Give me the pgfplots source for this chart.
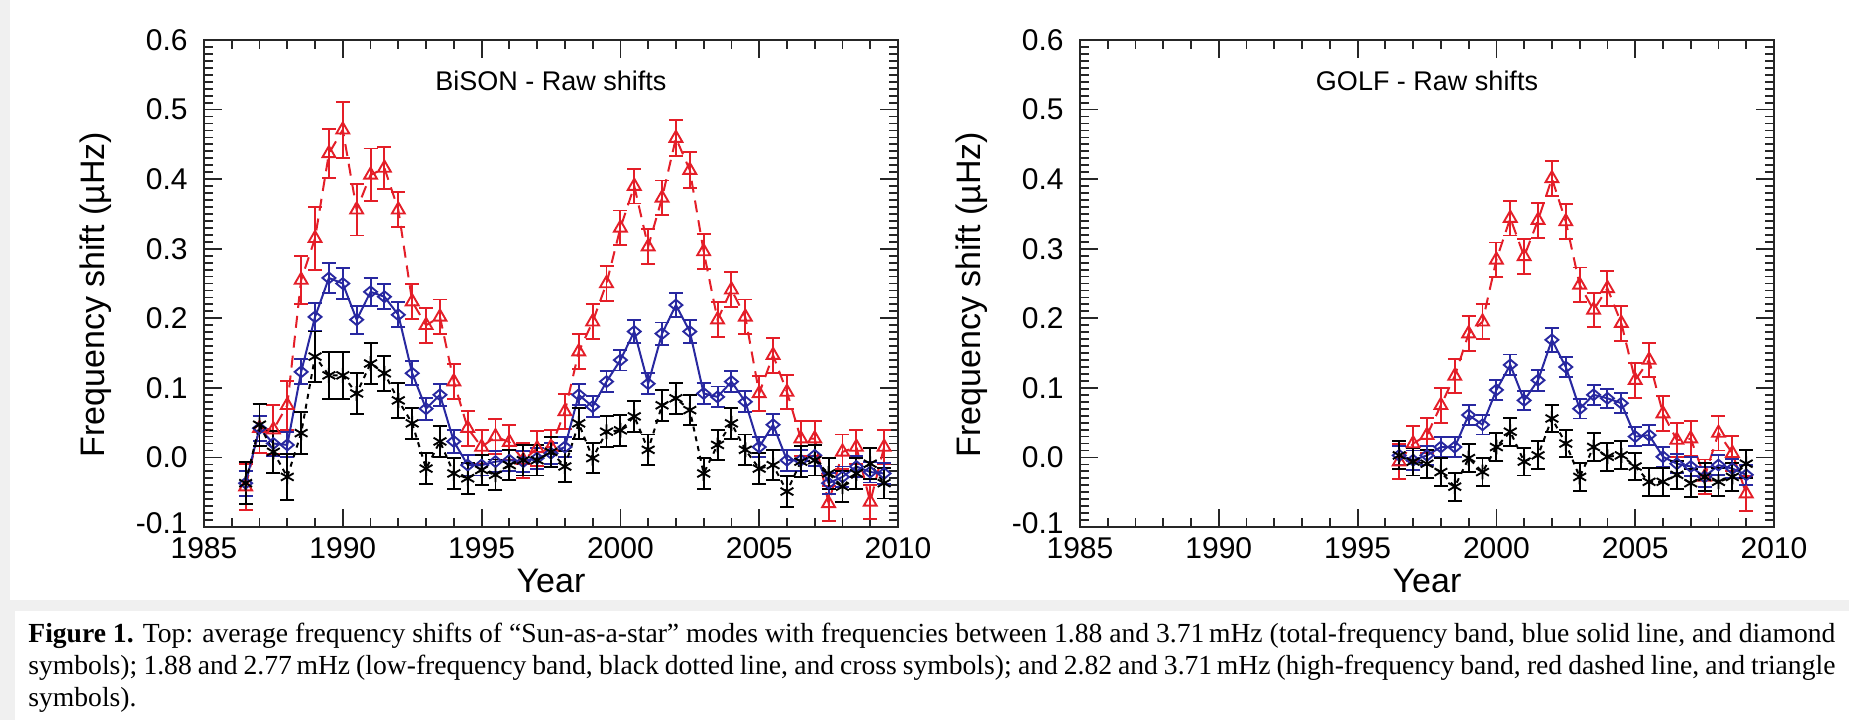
\documentclass[border=0pt]{standalone}
\usepackage{pgfplots}
\pgfplotsset{compat=1.18}
\usepackage{pgfplotstable}
\usepackage{fontspec}
\setmainfont{Liberation Serif}
\newfontfamily\arial{Liberation Sans}
\definecolor{myred}{RGB}{228,30,40}
\definecolor{myblue}{RGB}{40,40,160}
\definecolor{bg}{RGB}{240,240,240}

\pgfplotstableread{
x y e
1986.5 -0.042 0.033
1987.0 0.042 0.035
1987.5 0.040 0.035
1988.0 0.075 0.035
1988.5 0.255 0.035
1989.0 0.315 0.045
1989.5 0.437 0.035
1990.0 0.471 0.040
1990.5 0.356 0.037
1991.0 0.406 0.038
1991.5 0.416 0.030
1992.0 0.356 0.025
1992.5 0.224 0.025
1993.0 0.190 0.025
1993.5 0.202 0.025
1994.0 0.109 0.025
1994.5 0.042 0.025
1995.0 0.015 0.025
1995.5 0.030 0.025
1996.0 0.022 0.025
1996.5 -0.004 0.025
1997.0 0.013 0.025
1997.5 0.015 0.025
1998.0 0.066 0.025
1998.5 0.152 0.025
1999.0 0.195 0.025
1999.5 0.250 0.025
2000.0 0.330 0.025
2000.5 0.390 0.025
2001.0 0.303 0.025
2001.5 0.373 0.025
2002.0 0.459 0.026
2002.5 0.413 0.026
2003.0 0.296 0.025
2003.5 0.198 0.025
2004.0 0.241 0.025
2004.5 0.202 0.025
2005.0 0.092 0.025
2005.5 0.147 0.025
2006.0 0.094 0.025
2006.5 0.027 0.025
2007.0 0.027 0.025
2007.5 -0.066 0.025
2008.0 0.008 0.025
2008.5 0.015 0.025
2009.0 -0.064 0.025
2009.5 0.015 0.025
}\bisonred

\pgfplotstableread{
x y e
1986.5 -0.037 0.018
1987.0 0.042 0.018
1987.5 0.020 0.018
1988.0 0.018 0.018
1988.5 0.123 0.018
1989.0 0.202 0.020
1989.5 0.258 0.022
1990.0 0.250 0.022
1990.5 0.198 0.020
1991.0 0.238 0.020
1991.5 0.231 0.018
1992.0 0.205 0.018
1992.5 0.121 0.017
1993.0 0.070 0.016
1993.5 0.090 0.016
1994.0 0.023 0.016
1994.5 -0.011 0.015
1995.0 -0.011 0.015
1995.5 -0.006 0.015
1996.0 -0.004 0.015
1996.5 -0.006 0.015
1997.0 -0.001 0.015
1997.5 0.006 0.015
1998.0 0.015 0.015
1998.5 0.090 0.015
1999.0 0.073 0.015
1999.5 0.109 0.015
2000.0 0.140 0.015
2000.5 0.181 0.016
2001.0 0.106 0.015
2001.5 0.178 0.016
2002.0 0.219 0.017
2002.5 0.181 0.016
2003.0 0.092 0.015
2003.5 0.087 0.015
2004.0 0.109 0.015
2004.5 0.080 0.015
2005.0 0.015 0.015
2005.5 0.047 0.015
2006.0 -0.004 0.015
2006.5 -0.004 0.015
2007.0 0.003 0.015
2007.5 -0.037 0.015
2008.0 -0.028 0.015
2008.5 -0.013 0.015
2009.0 -0.021 0.015
2009.5 -0.023 0.015
}\bisonblue

\pgfplotstableread{
x y e
1986.5 -0.037 0.030
1987.0 0.047 0.030
1987.5 0.008 0.030
1988.0 -0.028 0.033
1988.5 0.035 0.030
1989.0 0.145 0.036
1989.5 0.118 0.034
1990.0 0.118 0.034
1990.5 0.092 0.030
1991.0 0.135 0.030
1991.5 0.121 0.025
1992.0 0.082 0.025
1992.5 0.049 0.022
1993.0 -0.016 0.022
1993.5 0.023 0.022
1994.0 -0.023 0.022
1994.5 -0.030 0.022
1995.0 -0.018 0.022
1995.5 -0.025 0.022
1996.0 -0.011 0.022
1996.5 -0.004 0.022
1997.0 -0.004 0.022
1997.5 0.008 0.022
1998.0 -0.013 0.022
1998.5 0.049 0.022
1999.0 -0.001 0.022
1999.5 0.037 0.022
2000.0 0.039 0.022
2000.5 0.059 0.022
2001.0 0.011 0.022
2001.5 0.075 0.022
2002.0 0.085 0.022
2002.5 0.068 0.022
2003.0 -0.023 0.022
2003.5 0.018 0.022
2004.0 0.049 0.022
2004.5 0.011 0.022
2005.0 -0.016 0.022
2005.5 -0.011 0.022
2006.0 -0.049 0.022
2006.5 -0.006 0.022
2007.0 -0.004 0.022
2007.5 -0.023 0.022
2008.0 -0.042 0.022
2008.5 -0.023 0.022
2009.0 -0.009 0.022
2009.5 -0.037 0.022
}\bisonblack

\pgfplotstableread{
x y e
1996.5 -0.006 0.025
1997.0 0.020 0.025
1997.5 0.032 0.025
1998.0 0.075 0.025
1998.5 0.117 0.025
1999.0 0.178 0.025
1999.5 0.195 0.025
2000.0 0.284 0.025
2000.5 0.344 0.025
2001.0 0.289 0.025
2001.5 0.341 0.025
2002.0 0.401 0.025
2002.5 0.339 0.025
2003.0 0.248 0.025
2003.5 0.212 0.025
2004.0 0.243 0.025
2004.5 0.193 0.025
2005.0 0.111 0.025
2005.5 0.140 0.025
2006.0 0.063 0.025
2006.5 0.025 0.025
2007.0 0.027 0.025
2007.5 -0.028 0.025
2008.0 0.035 0.025
2008.5 0.006 0.025
2009.0 -0.052 0.025
}\golfred

\pgfplotstableread{
x y e
1996.5 0.003 0.014
1997.0 -0.004 0.014
1997.5 0.003 0.014
1998.0 0.015 0.014
1998.5 0.015 0.014
1999.0 0.061 0.014
1999.5 0.047 0.014
2000.0 0.097 0.014
2000.5 0.133 0.015
2001.0 0.082 0.014
2001.5 0.111 0.015
2002.0 0.169 0.017
2002.5 0.130 0.015
2003.0 0.070 0.014
2003.5 0.090 0.014
2004.0 0.085 0.014
2004.5 0.078 0.014
2005.0 0.030 0.014
2005.5 0.032 0.014
2006.0 0.001 0.014
2006.5 -0.009 0.014
2007.0 -0.013 0.014
2007.5 -0.028 0.014
2008.0 -0.011 0.014
2008.5 -0.016 0.014
2009.0 -0.025 0.014
}\golfblue

\pgfplotstableread{
x y e
1996.5 0.003 0.020
1997.0 -0.006 0.020
1997.5 -0.009 0.020
1998.0 -0.021 0.020
1998.5 -0.042 0.020
1999.0 -0.001 0.020
1999.5 -0.021 0.020
2000.0 0.015 0.020
2000.5 0.037 0.020
2001.0 -0.006 0.020
2001.5 0.003 0.020
2002.0 0.056 0.019
2002.5 0.020 0.020
2003.0 -0.028 0.020
2003.5 0.015 0.020
2004.0 0.001 0.020
2004.5 0.003 0.020
2005.0 -0.013 0.020
2005.5 -0.035 0.020
2006.0 -0.035 0.020
2006.5 -0.025 0.020
2007.0 -0.037 0.020
2007.5 -0.028 0.020
2008.0 -0.035 0.020
2008.5 -0.028 0.020
2009.0 -0.009 0.020
}\golfblack

\pgfplotsset{
  myaxis/.style={
    scale only axis, width=347pt, height=243.5pt,
    xmin=1985, xmax=2010, ymin=-0.1, ymax=0.6,
    xtick={1985,1990,1995,2000,2005,2010},
    xticklabels={1985,1990,1995,2000,2005,2010},
    ytick={-0.1,0,0.1,0.2,0.3,0.4,0.5,0.6},
    yticklabels={\raisebox{3.5pt}{-0.1},0.0,0.1,0.2,0.3,0.4,0.5,0.6},
    minor x tick num=4, minor y tick num=9,
    tick align=inside,
    major tick length=9pt, minor tick length=4.5pt,
    axis line style={line width=1.3pt, black!85},
    every tick/.style={black!85, line width=0.9pt},
    tick label style={font=\arial\fontsize{15}{18}\selectfont, inner sep=1pt},
    yticklabel style={xshift=-7pt},
    xticklabel style={yshift=-4pt},
    xlabel={Year}, ylabel={Frequency shift (µHz)},
    every axis x label/.style={at={(axis description cs:0.5,-0.1335)},anchor=base,font=\arial\fontsize{17}{20}\selectfont},
    every axis y label/.style={at={(axis description cs:-0.144,0.477)},rotate=90,anchor=base,font=\arial\fontsize{17}{20}\selectfont},
  },
  redser/.style={myred, line width=1pt, dash pattern=on 6pt off 4pt, mark=triangle, mark size=3.7pt,
    mark options={solid, line width=0.95pt},
    error bars/.cd, y dir=both, y explicit,
    error bar style={solid, line width=0.95pt},
    error mark options={rotate=90, mark size=3.5pt, line width=0.95pt, solid}},
  blueser/.style={myblue, line width=1pt, solid, mark=diamond, mark size=2.7pt,
    mark options={solid, line width=0.95pt, xscale=1.6},
    error bars/.cd, y dir=both, y explicit,
    error bar style={solid, line width=0.95pt},
    error mark options={rotate=90, mark size=3.5pt, line width=0.95pt, solid}},
  blackser/.style={black, line width=1pt, dash pattern=on 2.5pt off 2.5pt, mark=asterisk, mark size=3.7pt,
    mark options={solid, line width=0.95pt},
    error bars/.cd, y dir=both, y explicit,
    error bar style={solid, line width=0.95pt},
    error mark options={rotate=90, mark size=3.5pt, line width=0.95pt, solid}},
}

\begin{document}
\begin{tikzpicture}
\fill[bg] (0,0) rectangle (924.5pt,-360pt);
\fill[white] (5pt,0) rectangle (924.5pt,-300pt);
\fill[white] (7.5pt,-305.5pt) rectangle (924.5pt,-360pt);

\begin{axis}[myaxis, at={(102pt,-263.5pt)}, anchor=south west]
\addplot[redser] table[x=x,y=y,y error=e] {\bisonred};
\addplot[blueser] table[x=x,y=y,y error=e] {\bisonblue};
\addplot[blackser] table[x=x,y=y,y error=e] {\bisonblack};
\node[anchor=base, font=\arial\fontsize{13.5}{16}\selectfont] at (axis description cs:0.5,0.897) {BiSON - Raw shifts};
\end{axis}

\begin{axis}[myaxis, at={(540pt,-263.5pt)}, anchor=south west]
\addplot[redser] table[x=x,y=y,y error=e] {\golfred};
\addplot[blueser] table[x=x,y=y,y error=e] {\golfblue};
\addplot[blackser] table[x=x,y=y,y error=e] {\golfblack};
\node[anchor=base, font=\arial\fontsize{13.5}{16}\selectfont] at (axis description cs:0.5,0.897) {GOLF - Raw shifts};
\end{axis}

\begin{scope}[every node/.style={anchor=base west, inner sep=0pt, font=\fontsize{13.8}{16}\selectfont}]
\node at (14pt,-321pt) {\makebox[903.5pt][s]{\textbf{Figure 1.} Top: average frequency shifts of “Sun-as-a-star” modes with frequencies between 1.88 and 3.71\,mHz (total-frequency band, blue solid line, and diamond}};
\node at (14pt,-337pt) {\makebox[903.5pt][s]{symbols); 1.88 and 2.77\,mHz (low-frequency band, black dotted line, and cross symbols); and 2.82 and 3.71\,mHz (high-frequency band, red dashed line, and triangle}};
\node at (14pt,-353pt) {symbols).};
\end{scope}

\pgfresetboundingbox
\path[use as bounding box] (0,0) rectangle (924.5pt,-360pt);
\end{tikzpicture}
\end{document}
